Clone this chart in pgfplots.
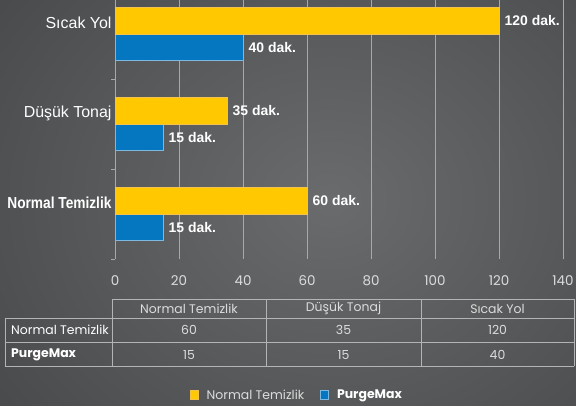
\documentclass[border=0pt]{standalone}
\usepackage{pgfplots}
\pgfplotsset{compat=1.18}
\usepackage{fontspec}
\setmainfont{Liberation Sans}
\newfontfamily\tabfont{Poppins}
\newfontfamily\condfont[FakeStretch=0.86]{Liberation Sans}
\definecolor{ylw}{HTML}{FFC800}
\definecolor{ylwedge}{HTML}{F2C24A}
\definecolor{blu}{HTML}{0477C0}
\definecolor{bluedge}{HTML}{7DB8E0}
\definecolor{bgin}{HTML}{696B6D}
\definecolor{bgout}{HTML}{38393A}
\definecolor{gridc}{HTML}{A8A8A8}
\definecolor{tablec}{HTML}{B4B4B4}
\definecolor{tabtext}{HTML}{DCDCDC}
\begin{document}
\begin{tikzpicture}[x=1bp,y=1bp]
\useasboundingbox (0,0) rectangle (576,405);
\fill[bgout] (0,0) rectangle (576,405);
\begin{scope}
\clip (0,0) rectangle (576,405);
\shade[inner color=bgin, outer color=bgout] (-300,-325) rectangle (960,735);
\begin{axis}[
  at={(115bp,146bp)}, anchor=south west,
  scale only axis, width=448bp, height=270bp,
  xbar, bar width=26.5bp,
  xmin=0, xmax=140, ymin=-0.5, ymax=2.5,
  xtick={0,20,...,140},
  xmajorgrids, grid style={draw=gridc, line width=0.6pt},
  x tick style={draw=none},
  ytick={-0.5,0.5,1.5}, yticklabels={},
  ytick pos=left, tick align=outside, major tick length=4bp,
  y tick style={draw=gridc, line width=0.6pt},
  extra y ticks={0,1,2},
  extra y tick labels={{\condfont\bfseries Normal Temizlik},{Düşük Tonaj},{Sıcak Yol}},
  extra y tick style={major tick length=0pt},
  separate axis lines,
  x axis line style={draw=none},
  y axis line style={draw=gridc, line width=0.6pt},
  /pgf/number format/assume math mode=true,
  xticklabel style={font=\tabfont\fontsize{13.5}{13.5}\selectfont, text=tabtext, yshift=-9bp},
  yticklabel style={font=\fontsize{16}{16}\selectfont, text=white, yshift=11bp},
  point meta=x,
  nodes near coords={\pgfmathprintnumber{\pgfplotspointmeta} dak.},
  every node near coord/.append style={font=\bfseries\fontsize{14}{14}\selectfont, text=white, anchor=west, xshift=2bp},
  legend style={at={(0.406,-0.504)}, anchor=center, draw=none, fill=none,
    legend columns=2, font=\tabfont\fontsize{12.5}{12.5}\selectfont, text=tabtext,
    /tikz/every odd column/.append style={column sep=6bp},
    /tikz/every even column/.append style={column sep=14bp}},
  legend image code/.code={\draw[#1] (0bp,-4.5bp) rectangle (8bp,4.5bp);},
  reverse legend,
]
\addplot[fill=blu, draw=bluedge, line width=0.8pt, bar shift=-13.25bp] coordinates {(15,0) (15,1) (40,2)};
\addplot[fill=ylw, draw=ylwedge, line width=0.8pt, bar shift=13.25bp] coordinates {(60,0) (35,1) (120,2)};
\legend{{\textcolor{white}{\bfseries PurgeMax}},{Normal Temizlik}}
\end{axis}
\end{scope}
% table
\begin{scope}[draw=tablec, line width=0.8pt]
\draw (112,106) -- (574,106);
\draw (5,87) -- (574,87);
\draw (5,63) -- (574,63);
\draw (5,39) -- (574,39);
\draw (5,87) -- (5,39);
\draw (112,106) -- (112,39);
\draw (266,106) -- (266,39);
\draw (421,106) -- (421,39);
\draw (574,106) -- (574,39);
\end{scope}
\begin{scope}[every node/.style={font=\tabfont\fontsize{12.5}{12.5}\selectfont, text=tabtext, inner sep=0pt}]
\node at (189,96.5) {Normal Temizlik};
\node at (343.5,96.5) {Düşük Tonaj};
\node at (497.5,96.5) {Sıcak Yol};
\node[anchor=west, text=white] at (11,75) {Normal Temizlik};
\node[anchor=west, text=white] at (11,50) {\bfseries PurgeMax};
\node at (189,75) {60};
\node at (343.5,75) {35};
\node at (497.5,75) {120};
\node at (189,50) {15};
\node at (343.5,50) {15};
\node at (497.5,50) {40};
\end{scope}
\end{tikzpicture}
\end{document}
